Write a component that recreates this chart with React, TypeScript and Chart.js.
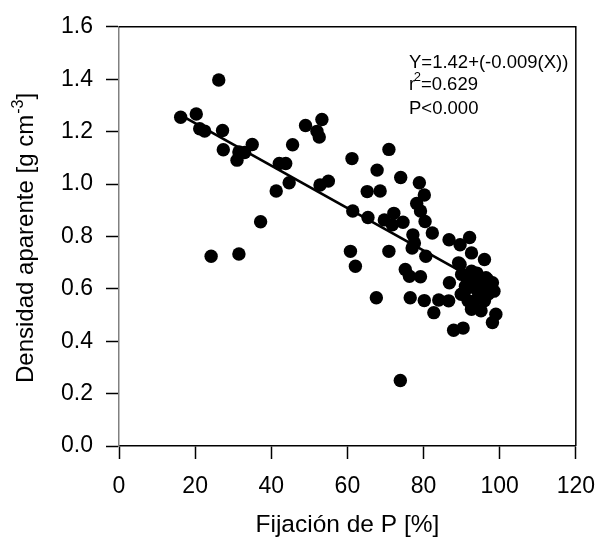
import React, { useEffect, useRef } from "react";
import { Chart, registerables } from "chart.js";

Chart.register(...registerables);

// ---- Data ----
const fijacion = [
  16.2, 20.3, 21.2, 22.5, 26.2, 27.2, 27.4, 35.0, 31.5, 31.0,
  33.0, 42.1, 43.8, 44.7, 41.3, 45.6, 37.2, 24.2, 31.5, 49.0,
  53.3, 52.0, 52.6, 61.2, 70.9, 67.8, 74.0, 78.9, 80.2, 65.2,
  68.6, 52.8, 55.0, 78.2, 79.2, 61.4, 65.4, 69.7, 72.2, 74.6,
  71.8, 80.4, 82.3, 77.2, 77.6, 77.0, 80.6, 86.7, 89.6, 92.1,
  92.6, 96.0, 89.2, 60.8, 62.1, 70.9, 75.2, 76.3, 79.2, 86.8,
  90.0, 92.6, 96.8, 98.1, 97.3, 67.6, 76.5, 80.2, 84.0, 86.6,
  89.6, 82.7, 87.9, 90.4, 99.0, 98.1, 73.9, 92.6, 91.7, 90.8,
  94.3, 96.4, 98.5, 95.1, 93.4, 92.6, 95.1, 91.7, 89.9, 93.4,
  96.0, 94.0, 95.0, 91.0, 94.5, 97.0,
];
const densidad = [
  1.255, 1.267, 1.211, 1.202, 1.397, 1.204, 1.131, 1.151, 1.122, 1.091,
  1.12, 1.078, 1.078, 1.005, 0.973, 1.15, 0.856, 0.724, 0.733, 1.223,
  1.246, 1.201, 1.179, 1.097, 1.132, 1.053, 1.025, 1.005, 0.958, 0.971,
  0.973, 0.996, 1.011, 0.926, 0.897, 0.897, 0.872, 0.863, 0.888, 0.854,
  0.844, 0.857, 0.813, 0.806, 0.775, 0.756, 0.724, 0.787, 0.768, 0.796,
  0.737, 0.712, 0.699, 0.743, 0.686, 0.743, 0.674, 0.648, 0.646, 0.623,
  0.655, 0.661, 0.636, 0.623, 0.604, 0.566, 0.566, 0.555, 0.557, 0.554,
  0.693, 0.509, 0.442, 0.45, 0.503, 0.471, 0.25, 0.667, 0.629, 0.591,
  0.623, 0.642, 0.591, 0.591, 0.554, 0.522, 0.516, 0.554, 0.579, 0.604,
  0.554, 0.66, 0.64, 0.61, 0.575, 0.58,
];

const xTicks = [0, 20, 40, 60, 80, 100, 120];
const yTicks = [0, 0.2, 0.4, 0.6, 0.8, 1.0, 1.2, 1.4, 1.6];

// regression line as drawn
const fitIntercept = 1.394;
const fitSlope = -0.0081;
const fitRange = [16.2, 99.0];

const eqText = "Y=1.42+(-0.009(X))";
const r2Value = "=0.629";
const pText = "P<0.000";
const xTitle = "Fijación de P [%]";
const yTitleMain = "Densidad aparente [g cm";
const yTitleSup = "-3";
const yTitleEnd = "]";

const FONT = "'Liberation Sans', Arial, Helvetica, sans-serif";

const decorPlugin = {
  id: "decor",
  afterDraw(chart: any) {
    const { ctx, chartArea: a } = chart;
    ctx.save();
    // top and right frame
    ctx.strokeStyle = "#000";
    ctx.lineWidth = 1.5;
    ctx.beginPath();
    ctx.moveTo(a.left, a.top);
    ctx.lineTo(a.right, a.top);
    ctx.lineTo(a.right, a.bottom);
    ctx.stroke();

    // annotation
    ctx.fillStyle = "#000";
    ctx.textBaseline = "alphabetic";
    ctx.textAlign = "left";
    const ax = a.left + 290;
    ctx.font = `18.5px ${FONT}`;
    ctx.fillText(eqText, ax, a.top + 41);
    ctx.fillText("r", ax, a.top + 63.3);
    const rw = ctx.measureText("r").width;
    ctx.font = `13px ${FONT}`;
    ctx.fillText("2", ax + rw - 1.5, a.top + 54.5);
    const tw = ctx.measureText("2").width;
    ctx.font = `18.5px ${FONT}`;
    ctx.fillText(r2Value, ax + rw - 1.5 + tw, a.top + 63.3);
    ctx.fillText(pText, ax, a.top + 87);

    // y axis title (rotated, with superscript)
    ctx.translate(33, 383);
    ctx.rotate(-Math.PI / 2);
    ctx.font = `24px ${FONT}`;
    ctx.fillText(yTitleMain, 0, 0);
    const mw = ctx.measureText(yTitleMain).width;
    ctx.font = `16px ${FONT}`;
    ctx.fillText(yTitleSup, mw + 1, -10);
    const sw = ctx.measureText(yTitleSup).width;
    ctx.font = `24px ${FONT}`;
    ctx.fillText(yTitleEnd, mw + 1 + sw, 0);
    ctx.restore();
  },
};

export default function App() {
  const ref = useRef<HTMLCanvasElement | null>(null);

  useEffect(() => {
    if (!ref.current) return;
    const points = fijacion.map((x, i) => ({ x, y: densidad[i] }));
    const line = fitRange.map((x) => ({ x, y: fitIntercept + fitSlope * x }));
    const chart = new Chart(ref.current, {
      type: "scatter",
      data: {
        datasets: [
          {
            data: line,
            showLine: true,
            borderColor: "#000",
            borderWidth: 2.7,
            pointRadius: 0,
            fill: false,
          } as any,
          {
            data: points,
            backgroundColor: "#000",
            borderWidth: 0,
            pointRadius: 6.7,
            pointHoverRadius: 6.7,
          },
        ],
      },
      options: {
        animation: false,
        responsive: false,
        layout: { padding: { left: 0, right: 22, top: 24, bottom: 0 } },
        plugins: {
          legend: { display: false },
          tooltip: { enabled: false },
        },
        scales: {
          x: {
            type: "linear",
            min: 0,
            max: 120,
            afterBuildTicks: (s: any) => {
              s.ticks = xTicks.map((v) => ({ value: v }));
            },
            afterFit: (s: any) => {
              s.height = 98;
            },
            ticks: {
              color: "#000",
              font: { family: FONT, size: 23 },
              padding: 14,
              maxRotation: 0,
              autoSkip: false,
            },
            grid: {
              drawOnChartArea: false,
              drawTicks: true,
              tickLength: 13,
              tickColor: "#000",
              tickWidth: 1.5,
            },
            border: { display: true, color: "#000", width: 1.5 },
            title: {
              display: true,
              text: xTitle,
              color: "#000",
              font: { family: FONT, size: 24.5 },
              padding: { top: 0, bottom: 4 },
            },
          },
          y: {
            type: "linear",
            min: 0,
            max: 1.6,
            afterBuildTicks: (s: any) => {
              s.ticks = yTicks.map((v) => ({ value: v }));
            },
            afterFit: (s: any) => {
              s.width = 119;
            },
            ticks: {
              color: "#000",
              font: { family: FONT, size: 23 },
              padding: 13,
              autoSkip: false,
              callback: (v: any) => Number(v).toFixed(1),
            },
            grid: {
              drawOnChartArea: false,
              drawTicks: true,
              tickLength: 13,
              tickColor: "#000",
              tickWidth: 1.5,
            },
            border: { display: true, color: "#808080", width: 1.5 },
          },
        },
      },
      plugins: [decorPlugin],
    });
    return () => chart.destroy();
  }, []);

  return (
    <div style={{ position: "fixed", left: 0, top: 0, width: 609, height: 544, background: "#fff" }}>
      <canvas ref={ref} width={609} height={544} style={{ display: "block" }} />
    </div>
  );
}
